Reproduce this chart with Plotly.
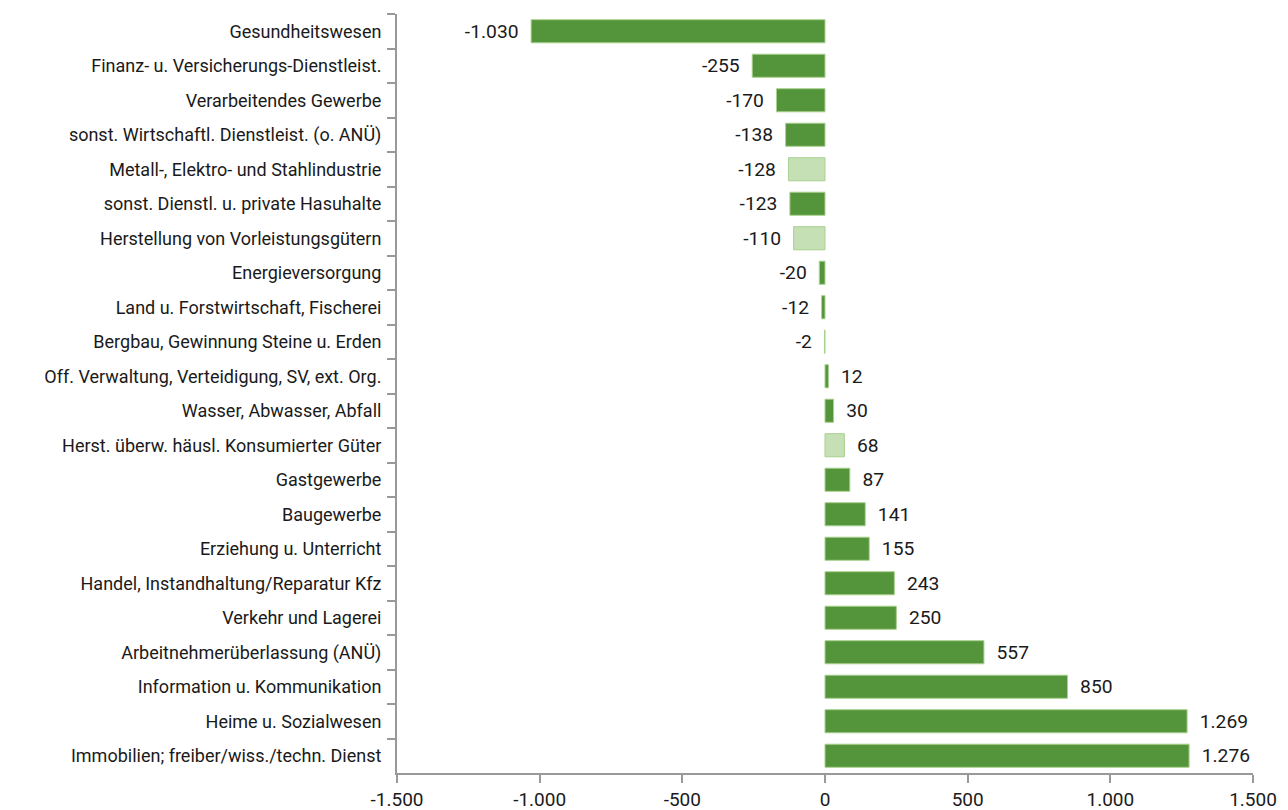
import plotly.graph_objects as go

categories = [
    "Gesundheitswesen",
    "Finanz- u. Versicherungs-Dienstleist.",
    "Verarbeitendes Gewerbe",
    "sonst. Wirtschaftl. Dienstleist. (o. ANÜ)",
    "Metall-, Elektro- und Stahlindustrie",
    "sonst. Dienstl. u. private Hasuhalte",
    "Herstellung von Vorleistungsgütern",
    "Energieversorgung",
    "Land u. Forstwirtschaft, Fischerei",
    "Bergbau, Gewinnung Steine u. Erden",
    "Off. Verwaltung, Verteidigung, SV, ext. Org.",
    "Wasser, Abwasser, Abfall",
    "Herst. überw. häusl. Konsumierter Güter",
    "Gastgewerbe",
    "Baugewerbe",
    "Erziehung u. Unterricht",
    "Handel, Instandhaltung/Reparatur Kfz",
    "Verkehr und Lagerei",
    "Arbeitnehmerüberlassung (ANÜ)",
    "Information u. Kommunikation",
    "Heime u. Sozialwesen",
    "Immobilien; freiber/wiss./techn. Dienst",
]
values = [-1030, -255, -170, -138, -128, -123, -110, -20, -12, -2,
          12, 30, 68, 87, 141, 155, 243, 250, 557, 850, 1269, 1276]
light_categories = [
    "Metall-, Elektro- und Stahlindustrie",
    "Herstellung von Vorleistungsgütern",
    "Herst. überw. häusl. Konsumierter Güter",
]
tick_values = [-1500, -1000, -500, 0, 500, 1000, 1500]

DARK = "#54943a"
LIGHT = "#c5e0b4"


def de_fmt(v):
    s = f"{abs(v):,}".replace(",", ".")
    return ("-" if v < 0 else "") + s


colors = [LIGHT if c in light_categories else DARK for c in categories]
texts = [(de_fmt(v) + "  ") if v < 0 else ("  " + de_fmt(v)) for v in values]

fig = go.Figure(go.Bar(
    x=values,
    y=categories,
    orientation="h",
    marker=dict(color=colors, line=dict(width=1, color="#a9d18e")),
    text=texts,
    textposition="outside",
    textfont=dict(size=20, color="#1a1a1a"),
    cliponaxis=False,
))

fig.update_layout(
    width=1288,
    height=810,
    margin=dict(l=389, r=43, t=6, b=45),
    paper_bgcolor="white",
    plot_bgcolor="white",
    bargap=0.33,
    showlegend=False,
    font=dict(family="Roboto", size=18, color="#1a1a1a"),
    xaxis=dict(
        range=[-1500, 1500],
        tickvals=tick_values,
        ticktext=[de_fmt(v) for v in tick_values],
        showgrid=False,
        zeroline=False,
        showline=True,
        linecolor="#999999",
        linewidth=2,
        ticks="outside",
        ticklen=8,
        tickwidth=2,
        tickcolor="#999999",
        tickfont=dict(size=19),
        automargin=False,
    ),
    yaxis=dict(
        autorange="reversed",
        showgrid=False,
        zeroline=False,
        showline=True,
        linecolor="#999999",
        linewidth=2,
        ticks="outside",
        tickson="boundaries",
        ticklen=8,
        tickwidth=2,
        tickcolor="#999999",
        tickfont=dict(size=18),
        ticklabelstandoff=10,
        automargin=False,
    ),
)

fig.write_html("out.html")
